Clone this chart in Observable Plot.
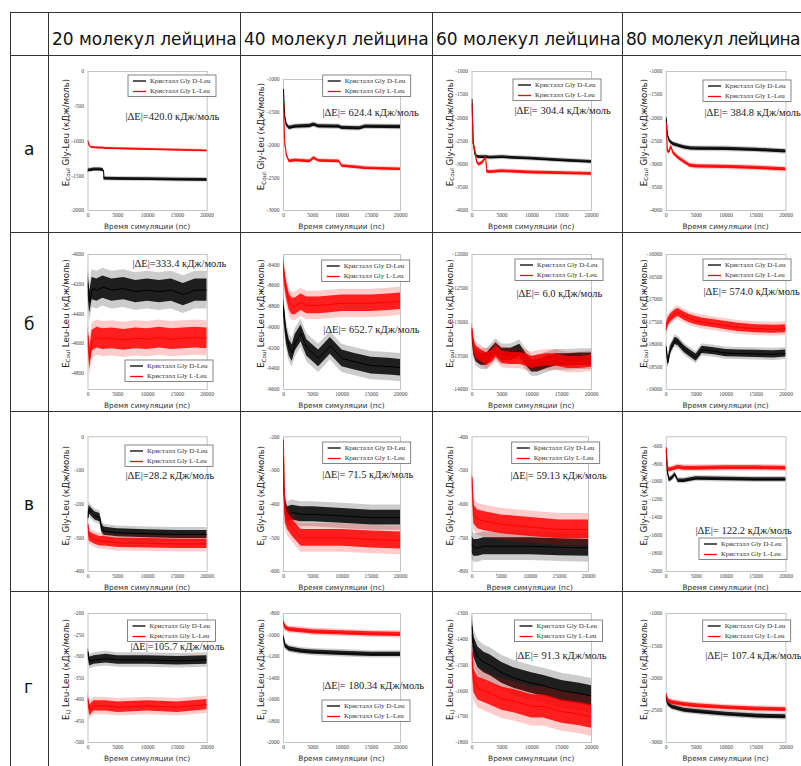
<!DOCTYPE html>
<html><head><meta charset="utf-8">
<script src="https://cdn.jsdelivr.net/npm/d3@7"></script>
<script src="https://cdn.jsdelivr.net/npm/@observablehq/plot@0.6"></script>
<style>
body{margin:0;background:#fff;}
#root{position:relative;width:801px;height:766px;overflow:hidden;background:#fff;font-family:"DejaVu Sans";}
.ln{position:absolute;background:#333;z-index:5;}
.hdr{position:absolute;font-family:"DejaVu Sans";font-size:17px;color:#111;white-space:nowrap;z-index:4;}
svg{position:absolute;overflow:visible;}
</style></head><body><div id="root"></div>
<script>
// ---------- text ----------
const columns = ["20 молекул лейцина", "40 молекул лейцина", "60 молекул лейцина", "80 молекул лейцина"];
const rowLabels = ["а", "б", "в", "г"];
const yTitleSub = ["Coul", "Coul", "LJ", "LJ"];
const yTitleRest = [" Gly-Leu (кДж/моль)", " Leu-Leu (кДж/моль)", " Gly-Leu (кДж/моль)", " Leu-Leu (кДж/моль)"];
const xTitle = "Время симуляции (пс)";
const seriesNames = ["Кристалл Gly D-Leu", "Кристалл Gly L-Leu"];
const deltaE = [["420.0", "624.4", "304.4", "384.8"], ["333.4", "652.7", "6.0", "574.0"], ["28.2", "71.5", "59.13", "122.2"], ["105.7", "180.34", "91.3", "107.4"]];
const xTicks = [0, 5000, 10000, 15000, 20000];
const yTicks = [
  [[0, -500, -1000, -1500, -2000], [-1000, -1500, -2000, -2500, -3000], [-1000, -1500, -2000, -2500, -3000, -3500, -4000], [-1000, -1500, -2000, -2500, -3000, -3500, -4000]],
  [[-4000, -4200, -4400, -4600, -4800], [-8400, -8600, -8800, -9000, -9200, -9400, -9600], [-12000, -12500, -13000, -13500, -14000], [-16000, -16500, -17000, -17500, -18000, -18500, -19000]],
  [[0, -100, -200, -300, -400], [-200, -300, -400, -500, -600], [-400, -500, -600, -700, -800], [-600, -800, -1000, -1200, -1400, -1600, -1800, -2000]],
  [[-200, -250, -300, -350, -400, -450, -500], [-800, -1000, -1200, -1400, -1600, -1800, -2000], [-1300, -1400, -1500, -1600, -1700, -1800], [-1000, -1500, -2000, -2500, -3000]]
];
const yDomains = [
  [[-2000, 0], [-3000, -1000], [-4000, -1000], [-4000, -1000]],
  [[-4910, -4000], [-9600, -8300], [-14000, -12000], [-19000, -16000]],
  [[-400, 0], [-600, -200], [-800, -400], [-2000, -500]],
  [[-500, -200], [-2000, -800], [-1800, -1300], [-3000, -1000]]
];

// ---------- series (time in ps, energy in kJ/mol) ----------
// row а: E_Coul Gly-Leu
const t_a20 = [0, 200, 500, 1000, 2000, 2600, 2700, 5000, 10000, 15000, 20000];
const D_a20 = [-1430, -1420, -1420, -1410, -1410, -1420, -1540, -1545, -1550, -1555, -1560];
const L_a20 = [-1000, -1060, -1090, -1095, -1100, -1100, -1105, -1110, -1120, -1130, -1140];
const t_a40 = [0, 200, 500, 1000, 2000, 4500, 5200, 6000, 9500, 10000, 13000, 14000, 20000];
const D_a40 = [-1150, -1550, -1690, -1740, -1720, -1710, -1690, -1715, -1720, -1740, -1745, -1720, -1725];
const L_a40 = [-1350, -1950, -2150, -2250, -2235, -2250, -2200, -2240, -2250, -2320, -2345, -2355, -2370];
const t_a60 = [0, 200, 500, 800, 1200, 1800, 2300, 2500, 3000, 5000, 10000, 15000, 20000];
const D_a60 = [-1600, -2500, -2780, -2830, -2850, -2850, -2850, -2850, -2860, -2850, -2880, -2920, -2950];
const L_a60 = [-1700, -2550, -2700, -2950, -3010, -2960, -2860, -3160, -3170, -3150, -3180, -3195, -3210];
const t_a80 = [0, 200, 500, 800, 1200, 2000, 3000, 4000, 5000, 10000, 15000, 20000];
const D_a80 = [-2000, -2350, -2480, -2530, -2570, -2600, -2640, -2660, -2665, -2670, -2690, -2725];
const L_a80 = [-2100, -2700, -2740, -2620, -2760, -2860, -2950, -3030, -3050, -3060, -3080, -3115];
// row б: E_Coul Leu-Leu
const t_b20 = [0, 300, 700, 1500, 2500, 4000, 6000, 8000, 10000, 12000, 14000, 16000, 18000, 20000];
const D_b20 = [-4200, -4320, -4230, -4240, -4220, -4240, -4230, -4250, -4240, -4250, -4240, -4270, -4240, -4240];
const L_b20 = [-4550, -4700, -4580, -4560, -4570, -4565, -4575, -4565, -4570, -4560, -4570, -4565, -4560, -4565];
const t_b40 = [0, 250, 500, 1000, 1500, 2000, 3000, 4000, 6000, 8000, 10000, 12000, 15000, 18000, 20000];
const D_b40 = [-8800, -8950, -9080, -9200, -9250, -9150, -9060, -9200, -9300, -9180, -9300, -9330, -9370, -9380, -9390];
const L_b40 = [-8420, -8550, -8640, -8760, -8800, -8800, -8760, -8790, -8790, -8780, -8770, -8770, -8770, -8760, -8750];
const t_b60 = [0, 300, 700, 1500, 2500, 3500, 4000, 5000, 6500, 8000, 9000, 10000, 11000, 12500, 14000, 16000, 18000, 20000];
const D_b60 = [-13150, -13400, -13500, -13550, -13550, -13450, -13400, -13480, -13480, -13420, -13550, -13650, -13650, -13600, -13560, -13560, -13550, -13550];
const L_b60 = [-13100, -13350, -13450, -13500, -13550, -13500, -13430, -13520, -13540, -13540, -13560, -13600, -13580, -13560, -13560, -13600, -13600, -13580];
const t_b80 = [0, 300, 700, 1500, 2000, 3000, 4000, 5000, 6000, 8000, 10000, 12000, 15000, 18000, 20000];
const D_b80 = [-18050, -18400, -18120, -17920, -17950, -18100, -18200, -18290, -18120, -18150, -18190, -18200, -18210, -18220, -18200];
const L_b80 = [-17650, -17500, -17420, -17320, -17290, -17370, -17430, -17470, -17500, -17540, -17580, -17620, -17650, -17660, -17650];
// row в: E_LJ Gly-Leu
const t_c20 = [0, 200, 600, 1200, 2000, 2300, 2700, 3500, 5000, 10000, 15000, 20000];
const D_c20 = [-240, -215, -225, -235, -240, -270, -280, -282, -285, -288, -290, -290];
const L_c20 = [-260, -295, -300, -305, -310, -310, -310, -312, -315, -316, -318, -318];
const t_c40 = [0, 100, 300, 700, 1500, 3000, 5000, 10000, 15000, 20000];
const D_c40 = [-260, -350, -410, -430, -425, -430, -430, -435, -440, -440];
const L_c40 = [-210, -350, -430, -450, -470, -500, -500, -500, -505, -508];
const t_c60 = [0, 300, 1000, 2000, 5000, 10000, 15000, 20000];
const D_c60 = [-720, -730, -730, -725, -725, -725, -728, -730];
const L_c60 = [-520, -630, -645, -650, -660, -668, -675, -675];
const t_c80 = [0, 200, 500, 1000, 1500, 2000, 3000, 5000, 10000, 15000, 20000];
const D_c80 = [-650, -880, -980, -960, -920, -990, -990, -965, -970, -975, -975];
const L_c80 = [-620, -830, -870, -860, -850, -840, -850, -850, -845, -845, -850];
// row г: E_LJ Leu-Leu
const t_d20 = [0, 300, 1000, 3000, 5000, 10000, 15000, 20000];
const D_d20 = [-290, -312, -308, -305, -308, -308, -310, -308];
const L_d20 = [-400, -425, -415, -415, -418, -415, -418, -412];
const t_d40 = [0, 300, 1000, 3000, 5000, 10000, 15000, 20000];
const D_d40 = [-1020, -1100, -1130, -1150, -1160, -1170, -1180, -1180];
const L_d40 = [-880, -930, -950, -960, -970, -980, -990, -995];
const t_d60 = [0, 300, 1000, 2000, 3000, 5000, 7000, 10000, 12000, 15000, 18000, 20000];
const D_d60 = [-1350, -1430, -1470, -1490, -1500, -1530, -1550, -1570, -1580, -1600, -1610, -1620];
const L_d60 = [-1450, -1560, -1590, -1600, -1610, -1630, -1640, -1660, -1660, -1680, -1690, -1700];
const t_d80 = [0, 300, 1000, 3000, 5000, 10000, 15000, 20000];
const D_d80 = [-2300, -2400, -2450, -2500, -2520, -2560, -2590, -2600];
const L_d80 = [-2250, -2350, -2380, -2410, -2430, -2460, -2480, -2490];
// fluctuation half-widths of each trace (kJ/mol)
const noiseD = [[20, 25, 30, 35], [75, 80, 90, 80], [12, 22, 25, 20], [10, 20, 40, 30]];
const noiseL = [[12, 20, 30, 35], [70, 80, 90, 90], [14, 25, 28, 22], [12, 20, 45, 30]];

const times = [[t_a20, t_a40, t_a60, t_a80], [t_b20, t_b40, t_b60, t_b80], [t_c20, t_c40, t_c60, t_c80], [t_d20, t_d40, t_d60, t_d80]];
const seriesD = [[D_a20, D_a40, D_a60, D_a80], [D_b20, D_b40, D_b60, D_b80], [D_c20, D_c40, D_c60, D_c80], [D_d20, D_d40, D_d60, D_d80]];
const seriesL = [[L_a20, L_a40, L_a60, L_a80], [L_b20, L_b40, L_b60, L_b80], [L_c20, L_c40, L_c60, L_c80], [L_d20, L_d40, L_d60, L_d80]];

// ---------- layout ----------
const colX = [48, 240, 432, 622, 801];
const rowY = [55, 232, 411, 591, 766];
const frameX = [[87.5, 206.7], [283, 400], [471.5, 591], [665.7, 785.5]];
const frameY = [[71, 210], [254, 389], [436.3, 571], [613, 742]];
// legend offset from frame top-left, ΔE label offset
const legendPos = [
  [[40.5, 4], [39.7, -4], [41.5, 8], [37.3, 9]],
  [[37.5, 106], [38.7, 6], [43.5, 5], [37.3, 5]],
  [[37.5, 8.7], [39.7, 5.7], [40.2, 5.7], [33.3, 101.7]],
  [[40, 7], [39, 87], [43, 7], [37, 7]]
];
const dePos = [
  [[37.5, 45], [39, 32.7], [42.5, 39], [38.3, 40.7]],
  [[44.5, 9], [39.7, 75.3], [44.5, 39.3], [37.3, 37]],
  [[37.5, 39], [38.7, 37.4], [38.5, 39], [29.3, 93.4]],
  [[42.5, 33], [39, 72], [43.5, 42], [39, 42]]
];

const root = document.getElementById("root");

function traceMarks(ts, vs, w, color) {
  const data = ts.map((t, i) => ({t, v: vs[i]}));
  return [
    Plot.areaY(data, {x: "t", y1: d => d.v - 1.7 * w, y2: d => d.v + 1.7 * w, fill: color, fillOpacity: 0.2, clip: true}),
    Plot.areaY(data, {x: "t", y1: d => d.v - w, y2: d => d.v + w, fill: color, fillOpacity: 0.85, clip: true}),
    Plot.line(data, {x: "t", y: "v", stroke: color, strokeWidth: 1, clip: true})
  ];
}

for (let r = 0; r < 4; r++) {
  for (let c = 0; c < 4; c++) {
    const left = colX[c], right = colX[c + 1], top = rowY[r], bottom = rowY[r + 1];
    const fx0 = frameX[c][0];
    const fx1 = (r === 2 && c === 2) ? 588 : frameX[c][1];
    const fy0 = (r === 0 && c === 1) ? 79 : frameY[r][0];
    const fy1 = frameY[r][1];
    const mL = fx0 - left, mT = fy0 - top;
    const label = (c === 0 ? "|ΔE|=" : "|ΔE|= ") + deltaE[r][c] + " кДж/моль";
    const svg = Plot.plot({
      width: right - left, height: bottom - top,
      marginLeft: mL, marginRight: right - fx1, marginTop: mT, marginBottom: bottom - fy1,
      style: {fontFamily: "Liberation Serif", fontSize: "5.5px", color: "#444", background: "transparent", overflow: "visible"},
      x: {domain: [0, 20000], ticks: xTicks, tickFormat: d => String(d), tickSize: 0, tickPadding: 3, label: null},
      y: {domain: yDomains[r][c], ticks: yTicks[r][c], tickFormat: d => String(d), tickSize: 0, tickPadding: 4, label: null},
      marks: [
        Plot.frame({stroke: "#c4c4c4"}),
        ...traceMarks(times[r][c], seriesD[r][c], noiseD[r][c], "#000000"),
        ...traceMarks(times[r][c], seriesL[r][c], noiseL[r][c], "#ff0000"),
        Plot.text([label], {text: d => d, frameAnchor: "top-left", dx: dePos[r][c][0], dy: dePos[r][c][1], textAnchor: "start", lineAnchor: "middle", fontSize: 10.5, fontFamily: "Liberation Serif", fill: "#222"})
      ]
    });
    svg.style.left = left + "px";
    svg.style.top = top + "px";
    const s = d3.select(svg);
    const fw = fx1 - fx0, fh = fy1 - fy0;
    // y title
    const yt = s.append("text")
      .attr("transform", `translate(${mL - 22},${mT + fh / 2 - 8}) rotate(-90)`)
      .attr("text-anchor", "middle").attr("dominant-baseline", "middle")
      .attr("font-family", "DejaVu Sans").attr("font-size", 8.6).attr("fill", "#222");
    yt.append("tspan").text("E");
    yt.append("tspan").attr("font-size", 5.6).attr("dy", 2.5).text(yTitleSub[r]);
    yt.append("tspan").attr("dy", -2.5).text(yTitleRest[r]);
    // x title
    s.append("text").attr("x", mL + fw / 2).attr("y", mT + fh + 17)
      .attr("text-anchor", "middle").attr("dominant-baseline", "middle")
      .attr("font-family", "DejaVu Sans").attr("font-size", 7.4).attr("fill", "#333").text(xTitle);
    // legend
    const lx = mL + legendPos[r][c][0], ly = mT + legendPos[r][c][1];
    const g = s.append("g").attr("transform", `translate(${lx},${ly})`);
    g.append("rect").attr("width", 88).attr("height", 21.5).attr("fill", "#fff").attr("stroke", "#666").attr("stroke-width", 0.8);
    ["#000000", "#ff0000"].forEach((col, i) => {
      const yy = 6 + i * 10.5;
      g.append("line").attr("x1", 5).attr("x2", 18).attr("y1", yy).attr("y2", yy).attr("stroke", col).attr("stroke-width", 1.3);
      g.append("text").attr("x", 22).attr("y", yy).attr("dominant-baseline", "middle").attr("text-anchor", "start")
        .attr("font-family", "Liberation Serif").attr("font-size", 7).attr("fill", "#333").text(seriesNames[i]);
    });
    root.appendChild(svg);
  }
}

// headers and row labels
columns.forEach((t, i) => {
  const d = document.createElement("div");
  d.className = "hdr"; d.textContent = t;
  d.style.left = (colX[i] + 4) + "px"; d.style.top = "29px";
  if (i === 3) d.style.letterSpacing = "-0.6px";
  root.appendChild(d);
});
const rowLabelY = [150, 325, 505, 688];
rowLabels.forEach((t, i) => {
  const d = document.createElement("div");
  d.className = "hdr"; d.textContent = t;
  d.style.left = "24px"; d.style.top = (rowLabelY[i] - 11) + "px";
  root.appendChild(d);
});
// table rules
function rule(x, y, w, h) {
  const d = document.createElement("div");
  d.className = "ln";
  d.style.left = x + "px"; d.style.top = y + "px"; d.style.width = w + "px"; d.style.height = h + "px";
  root.appendChild(d);
}
[12, ...rowY.slice(0, 4)].forEach(y => rule(10, y, 801 - 10, 1));
[10, ...colX.slice(0, 4)].forEach(x => rule(x, 12, 1, 766 - 12));
</script></body></html>
